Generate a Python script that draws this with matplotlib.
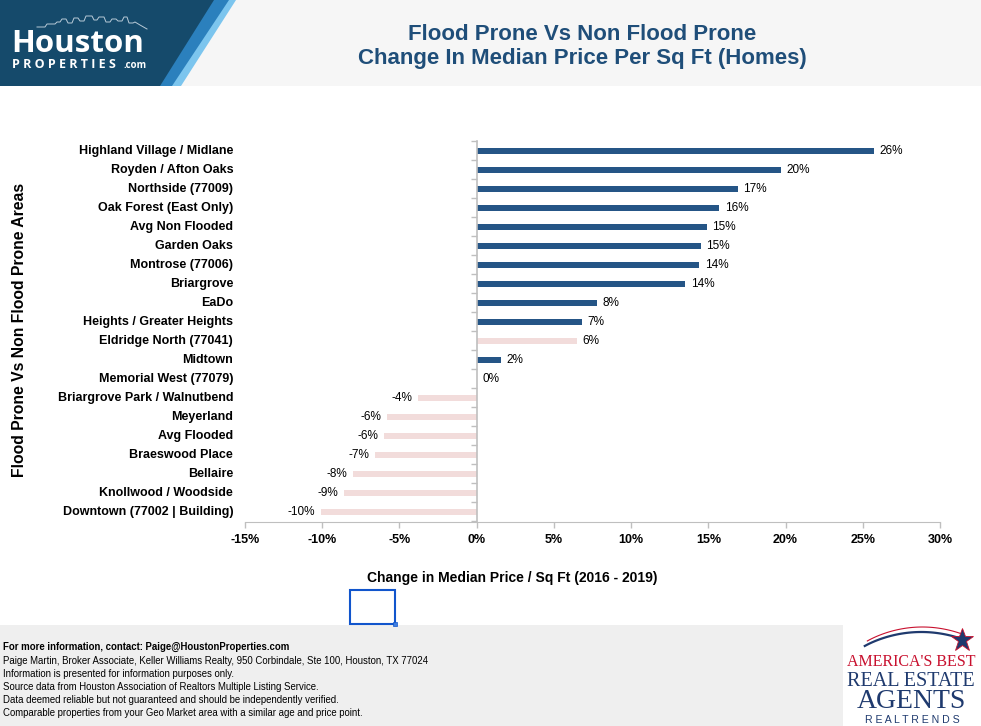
import matplotlib
matplotlib.use("Agg")
import matplotlib.pyplot as plt
from matplotlib.patches import Polygon, Rectangle
import numpy as np

categories = [
    "Highland Village / Midlane", "Royden / Afton Oaks", "Northside (77009)",
    "Oak Forest (East Only)", "Avg Non Flooded", "Garden Oaks", "Montrose (77006)",
    "Briargrove", "EaDo", "Heights / Greater Heights", "Eldridge North (77041)",
    "Midtown", "Memorial West (77079)", "Briargrove Park / Walnutbend", "Meyerland",
    "Avg Flooded", "Braeswood Place", "Bellaire", "Knollwood / Woodside",
    "Downtown (77002 | Building)",
]
values = [25.7, 19.7, 16.9, 15.7, 14.9, 14.5, 14.4, 13.5, 7.8, 6.8, 6.5, 1.6, 0.0,
          -3.8, -5.8, -6.0, -6.6, -8.0, -8.6, -10.1]
labels = ["26%", "20%", "17%", "16%", "15%", "15%", "14%", "14%", "8%", "7%", "6%",
          "2%", "0%", "-4%", "-6%", "-6%", "-7%", "-8%", "-9%", "-10%"]
flood_prone = [False] * 10 + [True] + [False, False] + [True] * 7
xticks = [-15, -10, -5, 0, 5, 10, 15, 20, 25, 30]
xticklabels = ["-15%", "-10%", "-5%", "0%", "5%", "10%", "15%", "20%", "25%", "30%"]

W, H = 981, 726
DARK = "#255586"
PINK = "#f2dcdb"
TITLE_C = "#1f4e79"
FONT = ["Liberation Sans", "DejaVu Sans"]
plt.rcParams["font.family"] = FONT

fig = plt.figure(figsize=(W / 100, H / 100), dpi=100)
fig.patch.set_facecolor("white")

# background / decoration axes in pixel coordinates
bg = fig.add_axes([0, 0, 1, 1], zorder=0)
bg.set_xlim(0, W)
bg.set_ylim(H, 0)
bg.axis("off")
bg.add_patch(Rectangle((0, 0), W, 86, color="#f6f6f6", lw=0))
bg.add_patch(Rectangle((0, 625), 843, 101, color="#efefef", lw=0))
# logo slants
bg.add_patch(Polygon([[0, 0], [236, 0], [181, 86], [0, 86]], closed=True, color="#7cc5ee", lw=0))
bg.add_patch(Polygon([[0, 0], [229, 0], [172, 86], [0, 86]], closed=True, color="#2b80bd", lw=0))
bg.add_patch(Polygon([[0, 0], [214, 0], [160, 86], [0, 86]], closed=True, color="#154a6b", lw=0))
# skyline
sx = [37, 45, 47, 55, 57, 60, 62, 66, 68, 72, 74, 78, 80, 84, 86, 92, 94, 97, 99, 104,
      106, 110, 112, 116, 118, 122, 124, 127, 129, 133, 135, 140, 147]
sy = [27, 27, 24, 24, 22, 22, 19, 19, 23, 23, 18, 18, 21, 21, 16, 16, 20, 20, 17, 17,
      22, 22, 19, 19, 21, 21, 17, 17, 23, 23, 22, 25, 29]
bg.plot(sx, sy, color="#b9cbd8", lw=0.7)
bg.text(11, 52, "Houston", color="white", fontsize=22.5, fontweight="bold",
        family=["Open Sans", "DejaVu Sans"], va="baseline", ha="left")
bg.text(12, 67.5, "P R O P E R T I E S", color="white", fontsize=9, fontweight="bold",
        family=["Open Sans", "DejaVu Sans"], va="baseline", ha="left")
bg.text(123, 67.5, ".com", color="white", fontsize=7, fontweight="bold",
        family=["Open Sans", "DejaVu Sans"], va="baseline", ha="left")

# title
bg.text(582, 34, "Flood Prone Vs Non Flood Prone", color=TITLE_C, fontsize=16,
        fontweight="bold", ha="center", va="center")
bg.text(582, 58.5, "Change In Median Price Per Sq Ft (Homes)", color=TITLE_C, fontsize=16,
        fontweight="bold", ha="center", va="center")

# axis labels
bg.text(20, 330, "Flood Prone Vs Non Flood Prone Areas", rotation=90, fontsize=11.3,
        fontweight="bold", ha="center", va="center", color="black")
bg.text(512, 578, "Change in Median Price / Sq Ft (2016 - 2019)", fontsize=10,
        fontweight="bold", ha="center", va="center", color="black")

# selection box artifact
bg.add_patch(Rectangle((350, 590), 45, 34, fill=False, ec="#1155cc", lw=1.5))
bg.add_patch(Rectangle((393, 622), 4, 4, fc="#3f7fe0", ec="#1155cc", lw=0.5))

# footer text
foot = [
    ("For more information, contact: Paige@HoustonProperties.com", "bold"),
    ("Paige Martin, Broker Associate, Keller Williams Realty, 950 Corbindale, Ste 100, Houston, TX 77024", "normal"),
    ("Information is presented for information purposes only.", "normal"),
    ("Source data from Houston Association of Realtors Multiple Listing Service.", "normal"),
    ("Data deemed reliable but not guaranteed and should be independently verified.", "normal"),
    ("Comparable properties from your Geo Market area with a similar age and price point.", "normal"),
]
fy = [647, 660.5, 674, 687, 700, 713]
for (t, w), y in zip(foot, fy):
    bg.text(3, y, t, fontsize=6.95, fontweight=w, ha="left", va="center",
            family=["Liberation Sans Narrow", "Liberation Sans", "DejaVu Sans"])

# right logo
ang = np.linspace(0.15, 1.0, 40)
bg.plot(848 + 112 * ang, 662 - 30 * np.sin(ang * 2.4) ** 0.6, color="#1f3a6e", lw=1.6)
bg.plot(851 + 109 * ang, 657 - 30 * np.sin(ang * 2.4) ** 0.6, color="#c8102e", lw=0.8)
bg.plot([962], [640], marker="*", ms=17, color="#1f3a6e", mec="#c8102e", mew=0.6)
serif = ["Liberation Serif", "DejaVu Serif"]
bg.text(911, 662.5, "AMERICA'S BEST", color="#c8102e", fontsize=11.5, family=serif,
        ha="center", va="center")
bg.text(911, 681.5, "REAL ESTATE", color="#1f3a6e", fontsize=14.5, family=serif,
        ha="center", va="center")
bg.text(911, 701.5, "AGENTS", color="#1f3a6e", fontsize=20, family=serif,
        ha="center", va="center")
bg.text(912, 720, "R E A L T R E N D S", color="#1f3a6e", fontsize=7.6,
        ha="center", va="center")

# main chart
ax = fig.add_axes([245 / W, 1 - 521.5 / H, 695 / W, 380 / H], zorder=1)
ax.set_facecolor("none")
y = np.arange(len(categories))
colors = [PINK if f else DARK for f in flood_prone]
ax.barh(y, values, height=0.34, color=colors, zorder=2)
ax.set_ylim(len(categories) - 0.5, -0.5)
ax.set_xlim(-15, 30)
ax.set_xticks(xticks)
ax.set_xticklabels(xticklabels, fontsize=9, fontweight="bold")
ax.set_yticks(y)
ax.set_yticklabels([])
ax.tick_params(axis="y", which="major", length=0)
ax.set_yticks(np.arange(-0.5, len(categories), 1), minor=True)
ax.tick_params(axis="y", which="minor", length=4, color="#bfbfbf", width=1, direction="out")
ax.tick_params(axis="x", length=4, color="#bfbfbf", width=1, pad=5)
for s in ["top", "right"]:
    ax.spines[s].set_visible(False)
ax.spines["left"].set_position(("data", 0))
ax.spines["left"].set_color("#bfbfbf")
ax.spines["left"].set_linewidth(1.2)
ax.spines["left"].set_zorder(3)
ax.spines["bottom"].set_color("#bfbfbf")

for yi, c in zip(y, categories):
    ax.annotate(c, xy=(0, yi), xycoords=("axes fraction", "data"), xytext=(-8.5, 0),
                textcoords="offset points", ha="right", va="center", fontsize=9,
                fontweight="bold")

for yi, v, lab in zip(y, values, labels):
    if v >= 0:
        ax.annotate(lab, xy=(v, yi), xytext=(4, 0), textcoords="offset points",
                    ha="left", va="center", fontsize=8.5)
    else:
        ax.annotate(lab, xy=(v, yi), xytext=(-4, 0), textcoords="offset points",
                    ha="right", va="center", fontsize=8.5)

fig.savefig("out.png", dpi=100)
